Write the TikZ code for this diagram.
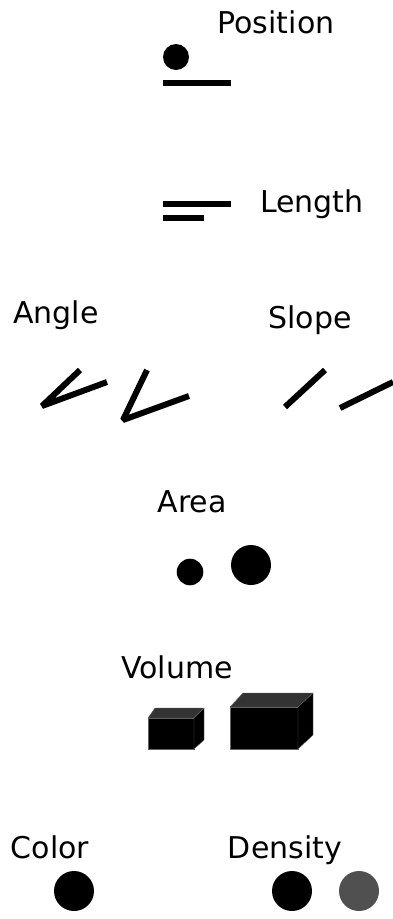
\documentclass[tikz,border=0pt]{standalone}
\usepackage{fontspec}
\setmainfont{DejaVu Sans}
\definecolor{topgray}{HTML}{333333}
\definecolor{dotgray}{HTML}{505050}
\tikzset{
  cuetext/.style={anchor=base,inner sep=0pt,font=\fontsize{30}{36}\selectfont},
  bar/.style={line width=6pt,line join=bevel},
  face/.style={draw=black!60,line width=0.4pt},
}
\begin{document}
\begin{tikzpicture}[x=1pt,y=-1pt]
\useasboundingbox (0,0) rectangle (393,919);
% position
\node[cuetext] (position) at (276,33) {Position};
\fill (176,57) circle (13pt);
\draw[bar] (163,83) -- (231,83);
% length
\draw[bar] (163,204) -- (231,204);
\draw[bar] (163,218) -- (204,218);
\node[cuetext] (length) at (312,212) {Length};
% angle and slope
\node[cuetext] (angle) at (56,323) {Angle};
\draw[bar] (80,370) -- (42,406) -- (107,382);
\draw[bar] (147,370) -- (123,420) -- (189,396);
\node[cuetext] (slope) at (310,328) {Slope};
\draw[bar] (285,407) -- (325,370);
\draw[bar] (340,408) -- (393,382);
% area
\node[cuetext] (area) at (192,512) {Area};
\fill (190,572) circle (13.3pt);
\fill (251,565) circle (20pt);
% volume
\node[cuetext] (volume) at (177,678) {Volume};
\filldraw[face,fill=black] (148,718) rectangle (194,749);
\filldraw[face,fill=topgray] (148,718) -- (155,708) -- (204,708) -- (194,718) -- cycle;
\filldraw[face,fill=black] (194,718) -- (204,708) -- (204,740) -- (194,749) -- cycle;
\filldraw[face,fill=black] (230,707) rectangle (298,749);
\filldraw[face,fill=topgray] (230,707) -- (243,693) -- (313,693) -- (298,707) -- cycle;
\filldraw[face,fill=black] (298,707) -- (313,693) -- (313,735) -- (298,749) -- cycle;
% color and density
\node[cuetext] (color) at (50,858) {Color};
\fill (74,891) circle (20pt);
\node[cuetext] (density) at (285,858) {Density};
\fill (292,891) circle (20pt);
\fill[dotgray] (359,891) circle (20pt);
\end{tikzpicture}
\end{document}
